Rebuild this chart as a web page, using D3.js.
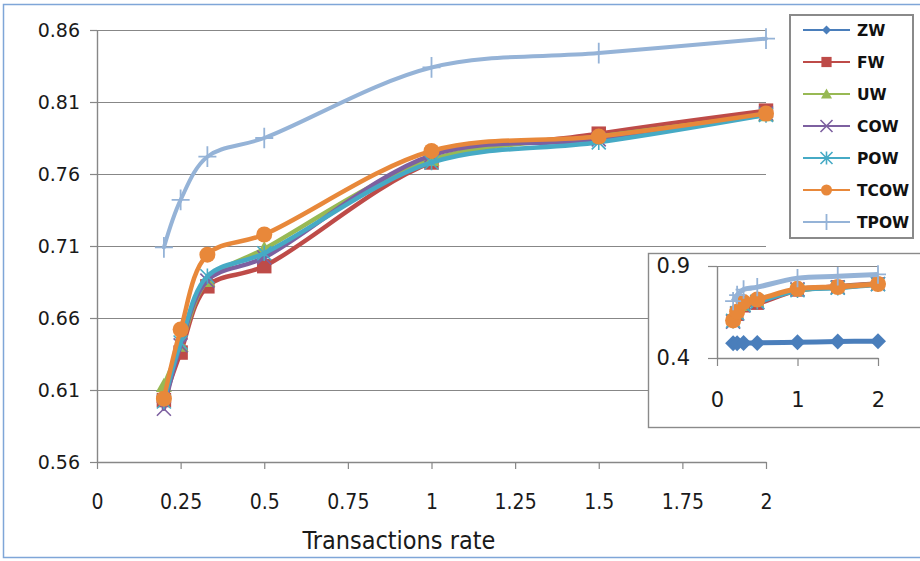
<!DOCTYPE html>
<html>
<head>
<meta charset="utf-8">
<script src="https://cdn.jsdelivr.net/npm/d3@7"></script>
<style>
  html, body { margin: 0; padding: 0; background: #fff; }
  svg { display: block; }
</style>
</head>
<body>
<svg id="chart" width="920" height="561"></svg>
<script>
// Transaction rates on the x axis
const rates = [0.2, 0.25, 0.33, 0.5, 1, 1.5, 2];
const seriesNames = ["ZW", "FW", "UW", "COW", "POW", "TCOW", "TPOW"];

// Values per weighting scheme
const zw   = [0.480, 0.480, 0.481, 0.482, 0.485, 0.490, 0.491];
const fw   = [0.603, 0.636, 0.682, 0.696, 0.768, 0.788, 0.804];
const uw   = [0.613, 0.641, 0.686, 0.708, 0.770, 0.786, 0.801];
const cow  = [0.597, 0.641, 0.686, 0.702, 0.773, 0.784, 0.802];
const pow  = [0.602, 0.643, 0.689, 0.705, 0.768, 0.782, 0.801];
const tcow = [0.604, 0.652, 0.704, 0.718, 0.776, 0.786, 0.802];
const tpow = [0.709, 0.742, 0.772, 0.785, 0.834, 0.844, 0.854];

const xTicks = [0, 0.25, 0.5, 0.75, 1, 1.25, 1.5, 1.75, 2];
const yTicks = [0.56, 0.61, 0.66, 0.71, 0.76, 0.81, 0.86];
const insetXTicks = [0, 1, 2];
const insetYTicks = [0.4, 0.9];

const seriesValues = [zw, fw, uw, cow, pow, tcow, tpow];
const colors = ["#4a7ebb", "#be4b48", "#98b954", "#7d60a0", "#46aac5", "#e8883a", "#95b3d7"];
const markers = ["diamond", "square", "triangle", "cross", "asterisk", "circle", "plus"];

const series = seriesNames.map((name, i) => ({
  name, color: colors[i], marker: markers[i],
  points: rates.map((r, j) => ({ x: r, y: seriesValues[i][j] }))
}));

const svg = d3.select("#chart");
const font = "'DejaVu Sans', Verdana, sans-serif";
const condensed = "'DejaVu Sans Condensed', 'DejaVu Sans', sans-serif";
const grid = "#878787";

// outer chart frame
svg.append("rect").attr("x", 3.5).attr("y", 4.5).attr("width", 930).attr("height", 553)
  .attr("fill", "#fff").attr("stroke", "#7fa6d8").attr("stroke-width", 1.5);

// marker drawing helper
function drawMarker(g, type, color, s) {
  switch (type) {
    case "diamond":
      g.append("path").attr("d", `M0,${-s}L${s},0L0,${s}L${-s},0Z`).attr("fill", color);
      break;
    case "square":
      g.append("rect").attr("x", -s * 0.85).attr("y", -s * 0.85)
        .attr("width", s * 1.7).attr("height", s * 1.7).attr("fill", color);
      break;
    case "triangle":
      g.append("path").attr("d", `M0,${-s}L${s},${s * 0.8}L${-s},${s * 0.8}Z`).attr("fill", color);
      break;
    case "cross":
      g.append("path").attr("d", `M${-s},${-s}L${s},${s}M${-s},${s}L${s},${-s}`)
        .attr("stroke", color).attr("stroke-width", 1.6).attr("fill", "none");
      break;
    case "asterisk":
      g.append("path").attr("d", `M${-s},${-s}L${s},${s}M${-s},${s}L${s},${-s}M0,${-s * 1.1}L0,${s * 1.1}`)
        .attr("stroke", color).attr("stroke-width", 1.6).attr("fill", "none");
      break;
    case "circle":
      g.append("circle").attr("r", s).attr("fill", color);
      break;
    case "plus":
      g.append("path").attr("d", `M${-s},0L${s},0M0,${-s * 1.15}L0,${s * 1.15}`)
        .attr("stroke", color).attr("stroke-width", 1.8).attr("fill", "none");
      break;
  }
}

// ---------- main plot ----------
const x = d3.scaleLinear().domain([0, 2]).range([97, 766]);
const y = d3.scaleLinear().domain([0.56, 0.86]).range([462, 30]);

const main = svg.append("g");

// horizontal gridlines
main.append("g").selectAll("line").data(yTicks.slice(1)).join("line")
  .attr("x1", x(0)).attr("x2", x(2))
  .attr("y1", d => Math.round(y(d)) + 0.5).attr("y2", d => Math.round(y(d)) + 0.5)
  .attr("stroke", grid).attr("stroke-width", 1.2);

// y axis
const yAxis = main.append("g").attr("transform", `translate(${x(0)},0)`)
  .call(d3.axisLeft(y).tickValues(yTicks).tickSize(7).tickSizeOuter(0).tickPadding(10)
    .tickFormat(d3.format(".2f")));
yAxis.select(".domain").attr("stroke", grid).attr("stroke-width", 1.4);
yAxis.selectAll(".tick line").attr("stroke", grid).attr("stroke-width", 1.2);
yAxis.selectAll("text").attr("font-family", font).attr("font-size", 19).attr("fill", "#1a1a1a");

// x axis
const xAxis = main.append("g").attr("transform", `translate(0,${y(0.56)})`)
  .call(d3.axisBottom(x).tickValues(xTicks).tickSize(7).tickSizeOuter(0).tickPadding(25)
    .tickFormat(d => String(d)));
xAxis.select(".domain").attr("stroke", grid).attr("stroke-width", 1.4);
xAxis.selectAll(".tick line").attr("stroke", grid).attr("stroke-width", 1.2);
xAxis.selectAll("text").attr("font-family", condensed).attr("font-size", 21).attr("fill", "#1a1a1a");

main.append("text").attr("x", 399).attr("y", 549).attr("text-anchor", "middle")
  .attr("font-family", condensed)
  .attr("font-size", 25).attr("fill", "#1a1a1a").text("Transactions rate");

svg.append("clipPath").attr("id", "plotClip").append("rect")
  .attr("x", 80).attr("y", 15).attr("width", 700).attr("height", 460);

const line = d3.line().x(d => x(d.x)).y(d => y(d.y)).curve(d3.curveCatmullRom.alpha(0.5));
const plot = main.append("g").attr("clip-path", "url(#plotClip)");
series.forEach(s => {
  if (d3.min(s.points, d => d.y) < y.domain()[0]) return; // series below the visible range
  plot.append("path").datum(s.points).attr("d", line)
    .attr("fill", "none").attr("stroke", s.color)
    .attr("stroke-width", s.name === "TPOW" ? 4 : 4.5)
    .attr("stroke-linejoin", "round").attr("stroke-linecap", "round");
  s.points.forEach(p => {
    const g = plot.append("g").attr("transform", `translate(${x(p.x)},${y(p.y)})`);
    const size = { square: 8.5, triangle: 8, cross: 7, asterisk: 7, circle: 8, plus: 9, diamond: 7 }[s.marker];
    drawMarker(g, s.marker, s.color, size);
  });
});

// ---------- legend ----------
const legend = svg.append("g");
legend.append("rect").attr("x", 790).attr("y", 15).attr("width", 123).attr("height", 223)
  .attr("fill", "#fff").attr("stroke", "#8a8a8a").attr("stroke-width", 2);
series.forEach((s, i) => {
  const ly = 30 + i * 32;
  legend.append("line").attr("x1", 803).attr("x2", 850).attr("y1", ly).attr("y2", ly)
    .attr("stroke", s.color).attr("stroke-width", 2.2);
  const g = legend.append("g").attr("transform", `translate(826.5,${ly})`);
  const size = { square: 6, triangle: 5.5, cross: 6, asterisk: 6, circle: 5.5, plus: 7, diamond: 4.5 }[s.marker];
  drawMarker(g, s.marker, s.color, size);
  legend.append("text").attr("x", 857).attr("y", ly).attr("dy", "0.36em")
    .attr("font-family", font).attr("font-weight", "bold").attr("font-size", 15.5)
    .attr("fill", "#111").text(s.name);
});

// ---------- inset with every series ----------
const inset = svg.append("g");
inset.append("rect").attr("x", 648.5).attr("y", 253.5).attr("width", 280).attr("height", 174)
  .attr("fill", "#fff").attr("stroke", "#8a8a8a").attr("stroke-width", 1.4);

const ix = d3.scaleLinear().domain([0, 2]).range([717, 878]);
const iy = d3.scaleLinear().domain([0.4, 0.9]).range([358, 266]);

inset.append("line").attr("x1", ix(0)).attr("x2", ix(2)).attr("y1", iy(0.9) + 0.5).attr("y2", iy(0.9) + 0.5)
  .attr("stroke", grid).attr("stroke-width", 1.2);

const iyAxis = inset.append("g").attr("transform", `translate(${ix(0)},0)`)
  .call(d3.axisLeft(iy).tickValues(insetYTicks).tickSize(9).tickSizeOuter(0).tickPadding(18)
    .tickFormat(d3.format(".1f")));
iyAxis.select(".domain").attr("stroke", grid).attr("stroke-width", 1.4);
iyAxis.selectAll(".tick line").attr("stroke", grid).attr("stroke-width", 1.2);
iyAxis.selectAll("text").attr("font-family", font).attr("font-size", 21).attr("fill", "#1a1a1a");

const ixAxis = inset.append("g").attr("transform", `translate(0,${iy(0.4)})`)
  .call(d3.axisBottom(ix).tickValues(insetXTicks).tickSize(8).tickSizeOuter(0).tickPadding(26)
    .tickFormat(d => String(d)));
ixAxis.select(".domain").attr("stroke", grid).attr("stroke-width", 1.4);
ixAxis.selectAll(".tick line").attr("stroke", grid).attr("stroke-width", 1.2);
ixAxis.selectAll("text").attr("font-family", font).attr("font-size", 21).attr("fill", "#1a1a1a");

const iline = d3.line().x(d => ix(d.x)).y(d => iy(d.y)).curve(d3.curveCatmullRom.alpha(0.5));
series.forEach(s => {
  inset.append("path").datum(s.points).attr("d", iline)
    .attr("fill", "none").attr("stroke", s.color).attr("stroke-width", 5)
    .attr("stroke-linejoin", "round");
  s.points.forEach(p => {
    const g = inset.append("g").attr("transform", `translate(${ix(p.x)},${iy(p.y)})`);
    const size = { square: 7.5, triangle: 7, cross: 7, asterisk: 7, circle: 8, plus: 8, diamond: 8 }[s.marker];
    drawMarker(g, s.marker, s.color, size);
  });
});
</script>
</body>
</html>
